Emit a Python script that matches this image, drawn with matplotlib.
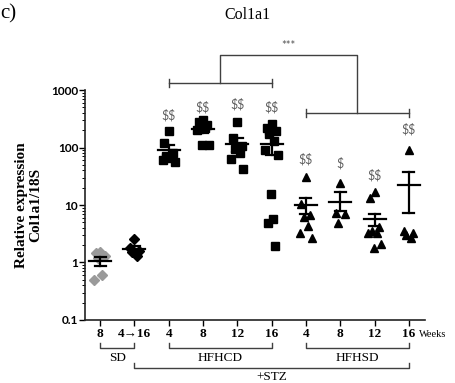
#!/usr/bin/env python3
import numpy as np
import matplotlib
matplotlib.use('Agg')
import matplotlib.pyplot as pl
from matplotlib.ticker import LogLocator, NullFormatter, FixedLocator

pl.rcParams['font.family'] = ['Liberation Serif', 'DejaVu Serif']

# ---------------------------------------------------------------
# Data
tick_labels = ['8', '4\u219216', '4', '8', '12', '16', '4', '8', '12', '16']
groups = [
    [1.5, 1.45, 1.3, 1.2, 0.6, 0.5],                       # SD 8
    [2.6, 1.8, 1.6, 1.5, 1.3],                              # SD 4->16
    [190, 120, 80, 70, 65, 60, 55],                         # HFHCD 4
    [300, 280, 250, 230, 220, 200, 110, 110],               # HFHCD 8
    [283, 144, 108, 96, 79, 64, 43],                        # HFHCD 12
    [260, 222, 196, 174, 132, 89, 73, 15.8, 5.8, 4.8, 1.9], # HFHCD 16
    [31, 10.6, 6.6, 6.1, 4.4, 3.2, 2.7],                    # HFHSD 4
    [24.5, 7.4, 7.0, 4.8],                                  # HFHSD 8
    [16.5, 13, 4.1, 3.6, 3.3, 3.2, 2.1, 1.8],               # HFHSD 12
    [89, 3.6, 3.3, 2.95, 2.7],                              # HFHSD 16
]
means = [1.05, 1.7, 89, 210, 113, 117, 10, 11.5, 5.8, 22]
err_lo = [0.87, 1.5, 75, 180, 83, 75, 7, 8, 4.3, 7.2]
err_hi = [1.27, 1.97, 110, 240, 148, 170, 13.5, 16.5, 7.1, 37]
sig_labels = ['', '', '$$', '$$', '$$', '$$', '$$', '$', '$$', '$$']
sig_y = [0, 0, 360, 500, 560, 500, 62, 53, 33, 205]
markers = ['D', 'D', 's', 's', 's', 's', '^', '^', '^', '^']
colors = ['#9a9a9a', 'black'] + ['black'] * 8


def jitter(n):
    # deterministic spread around the group centre
    pattern = [0, -0.13, 0.13, -0.07, 0.07, -0.18, 0.18, -0.03, 0.03, -0.1, 0.1, 0.15]
    return np.array(pattern[:n])


#######################################################
def plot():
    fig = pl.figure(figsize=(4.55, 3.83), dpi=100)
    ax = fig.add_axes([0.187, 0.1645, 0.747, 0.6005])
    line_col = '#404040'

    for i, vals in enumerate(groups):
        x = i + 1
        v = np.sort(np.array(vals))[::-1]
        ax.plot(x + jitter(len(v)), v, linestyle='none', marker=markers[i],
                color=colors[i], markersize=5.5 if markers[i] != 'D' else 5,
                clip_on=False, zorder=3)
        # mean and SEM
        ax.plot([x - 0.32, x + 0.32], [means[i], means[i]], color='black', lw=1.6, zorder=4)
        ax.plot([x, x], [err_lo[i], err_hi[i]], color='black', lw=1.6, zorder=4)
        for e in (err_lo[i], err_hi[i]):
            ax.plot([x - 0.16, x + 0.16], [e, e], color='black', lw=1.6, zorder=4)
        if sig_labels[i]:
            ax.text(x, sig_y[i], sig_labels[i], ha='center', va='center',
                    fontsize=9, color='#606060', family='Lato', parse_math=False)

    ax.set_yscale('log')
    ax.set_ylim(0.1, 1000)
    ax.set_xlim(0.563, 10.47)
    ax.yaxis.set_major_locator(FixedLocator([0.1, 1, 10, 100, 1000]))
    ax.set_yticklabels(['0.1', '1', '10', '100', '1000'], fontweight='bold',
                       fontsize=8.5, family='Lato')
    ax.yaxis.set_minor_locator(LogLocator(base=10, subs=np.arange(2, 10), numticks=20))
    ax.yaxis.set_minor_formatter(NullFormatter())
    ax.set_xticks(range(1, 11))
    ax.set_xticklabels(tick_labels, fontweight='bold', fontsize=9.5)
    ax.tick_params(axis='y', which='major', length=4, width=1, pad=1)
    ax.tick_params(axis='y', which='minor', length=2, width=0.7)
    ax.tick_params(axis='x', length=4, width=1, pad=2)
    for s in ('top', 'right'):
        ax.spines[s].set_visible(False)
    for s in ('left', 'bottom'):
        ax.spines[s].set_linewidth(1.2)
        ax.spines[s].set_color('#222222')

    ax.set_ylabel('Relative expression\nCol1a1/18S', fontweight='bold', fontsize=11,
                  labelpad=6)
    ax.text(10.3, -0.062, 'Weeks', transform=ax.get_xaxis_transform(),
            fontsize=7.5, va='center', ha='left')

    # Group brackets below the axis
    tx = ax.get_xaxis_transform()

    def under_bracket(x0, x1, y, label, ly):
        ax.plot([x0, x0, x1, x1], [y + 0.022, y, y, y + 0.022], color=line_col,
                lw=1, transform=tx, clip_on=False)
        ax.text((x0 + x1) / 2, ly, label, transform=tx, ha='center', va='center',
                fontsize=9.5)

    under_bracket(1, 2, -0.122, 'SD', -0.166)
    under_bracket(3, 6, -0.122, 'HFHCD', -0.166)
    under_bracket(7, 10, -0.122, 'HFHSD', -0.166)
    under_bracket(2, 10, -0.209, '+STZ', -0.246)

    # Comparison brackets above the data
    def over_bracket(x0, x1, y):
        ax.plot([x0, x1], [y, y], color=line_col, lw=1, transform=tx, clip_on=False)
        for xe in (x0, x1):
            ax.plot([xe, xe], [y - 0.018, y + 0.018], color=line_col, lw=1,
                    transform=tx, clip_on=False)

    over_bracket(3, 6, 1.030)
    over_bracket(7, 10, 0.900)
    ax.plot([4.5, 4.5, 8.5, 8.5], [1.030, 1.152, 1.152, 0.900], color=line_col,
            lw=1, transform=tx, clip_on=False)
    ax.text(6.5, 1.195, '***', transform=tx, ha='center', va='center',
            fontsize=8, color='#555555', family='Lato')

    fig.text(0.543, 0.96, 'Col1a1', ha='center', va='center', fontsize=11.5)
    fig.text(0.0, 0.965, 'c)', ha='left', va='center', fontsize=15)

    pl.savefig('out.png', dpi=100)
    pl.close()


#######################################################
if __name__ == '__main__':
    plot()
